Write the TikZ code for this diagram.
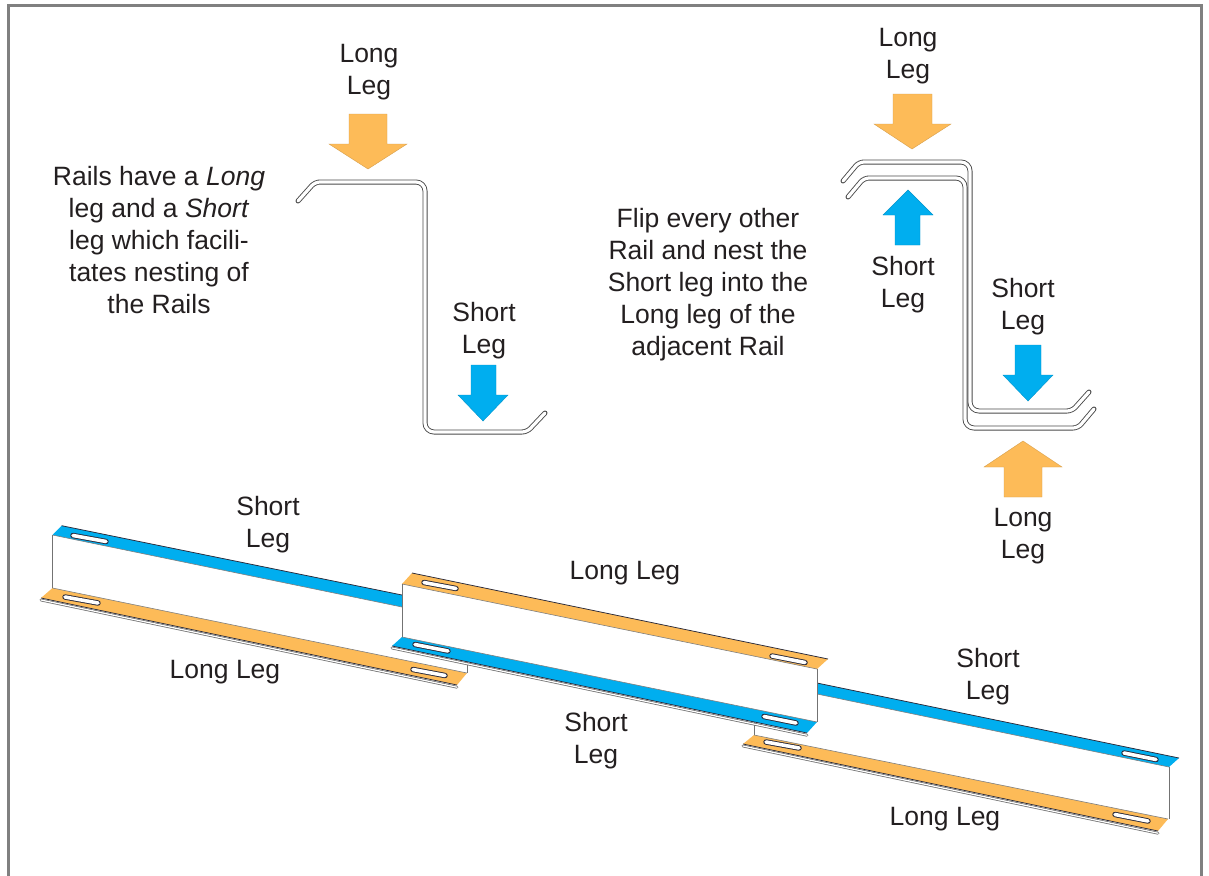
\documentclass[tikz,border=0pt]{standalone}
\usepackage{fontspec}
\setmainfont{Liberation Sans}
\definecolor{orangeleg}{HTML}{FDBB58}
\definecolor{blueleg}{HTML}{00AEEF}
\definecolor{inktext}{HTML}{231F20}
\definecolor{framegray}{HTML}{808080}
\definecolor{edgedark}{HTML}{2A2A3A}
\tikzset{
  lbl/.style={text=inktext,inner sep=0pt,align=center,font=\fontsize{26.5}{32}\selectfont},
  profile/.style={draw=black!70,line width=0.9pt,double=white,double distance=3.2pt,line join=round,line cap=round},
  arrowo/.style={fill=orangeleg,draw=orangeleg!85!black,line width=0.4pt},
  arrowb/.style={fill=blueleg,draw=blueleg!85!black,line width=0.4pt},
  flangeo/.style={fill=orangeleg,draw=none},
  flangeb/.style={fill=blueleg,draw=none},
  webedge/.style={draw=black!55,line width=1pt},
  backedge/.style={draw=edgedark,line width=0.75pt},
  thinedge/.style={draw=black!50,line width=0.6pt},
  lipline/.style={draw=black!55,line width=0.8pt,double=white,double distance=1.2pt,line cap=round},
  slotline/.style={draw=edgedark,line width=0.9pt,double=white,double distance=3.6pt,line cap=round},
  tipbend/.style={rounded corners=5pt},
  mainbend/.style={rounded corners=9pt},
}
\begin{document}
\begin{tikzpicture}[x=1pt,y=-1pt]
\useasboundingbox[fill=white] (0,0) rectangle (1209,875);
% frame
\draw[framegray,line width=3pt] (8.5,880) -- (8.5,5.5) -- (1201,5.5) -- (1201,880);

% section profiles
\draw[profile,tipbend] (298,201) -- (315,182) -- (380,182) [mainbend] -- (425,182) -- (425,432) -- (480,432) [tipbend] -- (527,432) -- (545,413);
\draw[profile,tipbend] (843,181) -- (859,162) -- (920,162) [mainbend] -- (970,162) -- (970,411) -- (1030,411) [tipbend] -- (1072,411) -- (1089,392);
\draw[profile,tipbend] (848,197) -- (864,178) -- (920,178) [mainbend] -- (965,178) -- (965,428) -- (1030,428) [tipbend] -- (1078,428) -- (1094,409);

% block arrows
\path[arrowo] (349,114) -- (387,114) -- (387,144) -- (407,144) -- (368,169) -- (329,144) -- (349,144) -- cycle;
\path[arrowb] (471,365) -- (496,365) -- (496,395) -- (508,395) -- (483,421) -- (458,395) -- (471,395) -- cycle;
\path[arrowo] (893,94) -- (932,94) -- (932,124) -- (951,124) -- (912,149) -- (874,124) -- (893,124) -- cycle;
\path[arrowb] (895,245) -- (920,245) -- (920,215) -- (933,215) -- (908,190) -- (883,215) -- (895,215) -- cycle;
\path[arrowb] (1015,345) -- (1041,345) -- (1041,375) -- (1053,375) -- (1028,401) -- (1003,375) -- (1015,375) -- cycle;
\path[arrowo] (1004,497) -- (1042,497) -- (1042,467) -- (1062,467) -- (1023,441) -- (984,467) -- (1004,467) -- cycle;

% rail 1
\path[flangeb] (61.7,525.7) -- (52.5,535) -- (402,607) -- (402,595) -- cycle;
\draw[backedge] (61.7,525.7) -- (402,595);
\draw[thinedge] (52.5,535) -- (402,607);
\draw[slotline] (73,535.5) -- (106,541.5);
\draw[webedge] (52.5,535) -- (52.5,588);
\draw[webedge] (467,660) -- (467,673);
\path[flangeo] (52.5,588) -- (41,598) -- (457,685) -- (467,673) -- cycle;
\draw[thinedge] (52.5,588) -- (467,673);
\draw[backedge] (41,598) -- (457,685);
\draw[lipline] (41,600) -- (457,687.2);
\draw[slotline] (65,597) -- (98,603);
\draw[slotline] (413,669.5) -- (445,675.5);

% rail 3
\path[flangeb] (817,683) -- (817,694) -- (1169,767) -- (1179,758) -- cycle;
\draw[backedge] (817,683) -- (1179,758);
\draw[thinedge] (817,694) -- (1169,767);
\draw[slotline] (1124,753) -- (1156,759.5);
\draw[webedge] (1169,767) -- (1169,819);
\draw[webedge] (754,720) -- (754,735);
\path[flangeo] (754,735) -- (743,744) -- (1158,831) -- (1168,819) -- cycle;
\draw[thinedge] (754,735) -- (1168,819);
\draw[backedge] (743,744) -- (1158,831);
\draw[lipline] (743,746) -- (1158,833.2);
\draw[slotline] (766,742) -- (799,748);
\draw[slotline] (1115,814.5) -- (1148,821);

% rail 2
\path[fill=white] (402,584) -- (817,669) -- (817,722) -- (402,637) -- cycle;
\path[flangeo] (412,573) -- (402,584) -- (817,669) -- (828,659) -- cycle;
\draw[backedge] (412,573) -- (828,659);
\draw[thinedge] (402,584) -- (817,669);
\draw[slotline] (424,582.5) -- (456,588.5);
\draw[slotline] (772,656) -- (805,662.5);
\draw[webedge] (402,584) -- (402,637);
\draw[webedge] (817,669) -- (817,722);
\path[flangeb] (402,637) -- (392,646) -- (807,733) -- (817,722) -- cycle;
\draw[thinedge] (402,637) -- (817,722);
\draw[backedge] (392,646) -- (807,733);
\draw[lipline] (392,648) -- (807,735.2);
\draw[slotline] (415,644.5) -- (448,651);
\draw[slotline] (764,716.5) -- (796,723);

% labels
\node[lbl] (ll1) at (369,72) {Long\\Leg};
\node[lbl] (rails) at (159,240) {Rails have a \textit{Long}\\leg and a \textit{Short}\\leg which facili-\\tates nesting of\\the Rails};
\node[lbl] (sl1) at (484,331) {Short\\Leg};
\node[lbl] (ll2) at (908,56) {Long\\Leg};
\node[lbl] (flip) at (708,285) {Flip every other\\Rail and nest the\\Short leg into the\\Long leg of the\\adjacent Rail};
\node[lbl] (sl2) at (903,285) {Short\\Leg};
\node[lbl] (sl3) at (1023,307) {Short\\Leg};
\node[lbl] (ll3) at (1023,536) {Long\\Leg};
\node[lbl] (sl4) at (268,525) {Short\\Leg};
\node[lbl] (ll4) at (625,573) {Long Leg};
\node[lbl] (ll5) at (225,672) {Long Leg};
\node[lbl] (sl5) at (988,677) {Short\\Leg};
\node[lbl] (sl6) at (596,741) {Short\\Leg};
\node[lbl] (ll6) at (945,819) {Long Leg};
\end{tikzpicture}
\end{document}
